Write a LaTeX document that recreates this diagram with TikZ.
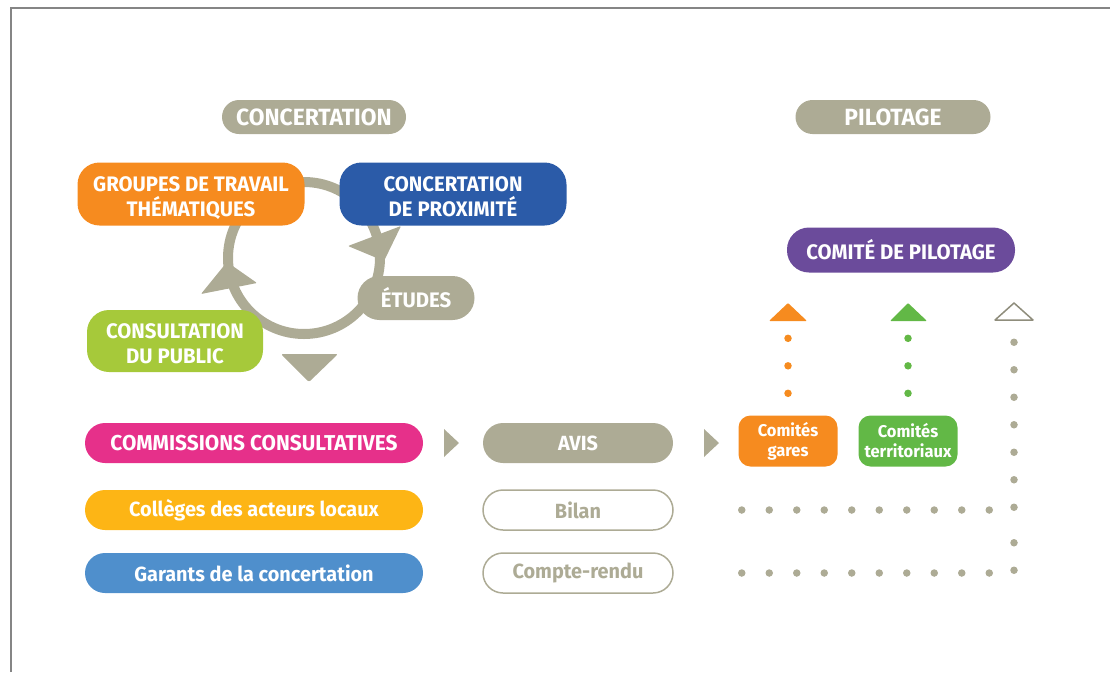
\documentclass[tikz,border=0pt]{standalone}
\usepackage{fontspec}
\setmainfont{Fira Sans}[FakeStretch=0.97]
\definecolor{cgray}{HTML}{ADAB95}
\definecolor{cgrayd}{HTML}{8F8D7C}
\definecolor{corange}{HTML}{F68B1F}
\definecolor{cblue}{HTML}{2B5BA8}
\definecolor{cgreen}{HTML}{A6C93A}
\definecolor{cpurple}{HTML}{6B4B9B}
\definecolor{cmagenta}{HTML}{E6308A}
\definecolor{cyellow}{HTML}{FDB515}
\definecolor{cbluel}{HTML}{4F8FCC}
\definecolor{cgreend}{HTML}{62B846}
\definecolor{cframe}{HTML}{858585}
\tikzset{
  box/.style={rectangle, inner sep=0pt, text=white, align=center,
    font=\bfseries\fontsize{21}{25}\selectfont},
  twoline/.style={text height=44pt, text depth=0pt},
  bigbox/.style={box, twoline, minimum width=227pt, minimum height=63pt, rounded corners=22pt},
  headbox/.style={box, fill=cgray, minimum height=34pt, rounded corners=17pt,
    font=\bfseries\fontsize{23.5}{25}\selectfont},
  rowbox/.style={box, minimum width=338pt, minimum height=40pt, rounded corners=20pt,
    font=\bfseries\fontsize{20.5}{22}\selectfont},
  midbox/.style={box, minimum width=190pt, minimum height=40pt, rounded corners=20pt,
    font=\bfseries\fontsize{20.5}{22}\selectfont},
  outbox/.style={midbox, fill=white, draw=cgray, line width=1.5pt, text=cgray},
  smallbox/.style={box, minimum width=99pt, minimum height=51pt, rounded corners=12pt,
    font=\bfseries\fontsize{17}{20}\selectfont},
  dotline/.style={line width=7.5pt, line cap=round, dash pattern=on 0pt off 27.5pt},
  rtri/.style={cgray, fill=cgray, line width=1.5pt, line join=round},
  otri/.style={cgray, fill=white, line width=1.5pt, line join=round},
}
\begin{document}
\begin{tikzpicture}[x=1pt, y=-1pt]
\useasboundingbox (0,0) rectangle (1110,672);
% frame
\draw[cframe, line width=2pt] (10.5,672) -- (10.5,7.5) -- (1110,7.5);

% ring and arrowheads
\draw[cgray, line width=10pt] (304,258) circle[radius=76pt];
\fill[cgray, rounded corners=1pt] (348,246) -- (401,226) -- (384,261) -- cycle;
\fill[cgray, rounded corners=1pt] (201,294) -- (257,283) -- (227,262) -- cycle;
\fill[cgray, rounded corners=2pt] (281,354) -- (338,354) -- (309,382) -- cycle;

% headers
\node[headbox, minimum width=184pt] (hconc) at (314,117) {CONCERTATION};
\node[headbox, minimum width=195pt] (hpil) at (893,117) {PILOTAGE};

% cycle boxes
\node[bigbox, fill=corange] (groupes) at (191,194) {GROUPES DE TRAVAIL\\THÉMATIQUES};
\node[bigbox, fill=cblue] (prox) at (453,194) {CONCERTATION\\DE PROXIMITÉ};
\node[box, fill=cgray, minimum width=117pt, minimum height=44pt, rounded corners=22pt] (etudes) at (416,298) {ÉTUDES};
\node[box, twoline, fill=cgreen, minimum width=176pt, minimum height=62pt, rounded corners=22pt] (public) at (175,341) {CONSULTATION\\DU PUBLIC};

% pilotage
\node[box, fill=cpurple, minimum width=228pt, minimum height=45pt, rounded corners=22pt] (copil) at (901,250) {COMITÉ DE PILOTAGE};
\node[smallbox, fill=corange] (gares) at (788,441) {Comités\\gares};
\node[smallbox, fill=cgreend] (terr) at (908,441) {Comités\\territoriaux};

% rows
\node[rowbox, fill=cmagenta, font=\bfseries\fontsize{21.5}{23}\selectfont] (comm) at (254,443) {COMMISSIONS CONSULTATIVES};
\node[rowbox, fill=cyellow] (coll) at (254,510) {Collèges des acteurs locaux};
\node[rowbox, fill=cbluel] (gar) at (254,573) {Garants de la concertation};
\node[midbox, fill=cgray] (avis) at (578,443) {AVIS};
\node[outbox] (bilan) at (578,510) {Bilan};
\node[outbox] (cr) at (578,573) {Compte-rendu};

% row triangles
\path[rtri] (444,429) -- (459,443) -- (444,457) -- cycle;
\path[rtri] (704,429) -- (719,443) -- (704,457) -- cycle;
\path[otri] (444,496) -- (459,510) -- (444,524) -- cycle;
\path[otri] (704,496) -- (719,510) -- (704,524) -- cycle;
\path[otri] (444,559) -- (459,573) -- (444,587) -- cycle;
\path[otri] (704,559) -- (719,573) -- (704,587) -- cycle;

% up triangles
\coordinate (tO) at (788,321);
\coordinate (tG) at (908,321);
\coordinate (tW) at (1014,321);
\fill[corange, rounded corners=1pt] (769,321) -- (788,303) -- (807,321) -- cycle;
\fill[cgreend, rounded corners=1pt] (890,321) -- (908,303) -- (927,321) -- cycle;
\draw[cgrayd, fill=white, line width=1.5pt, line join=round] (995,320) -- (1014,303) -- (1033,320) -- cycle;

% dotted connectors
\draw[dotline, corange] ([yshift=22pt]gares.north) -- (tO);
\draw[dotline, cgreend] ([yshift=22pt]terr.north) -- (tG);
\draw[dotline, cgray] ([xshift=68pt]bilan.east) -- (tW |- bilan) -- ([yshift=-18pt]tW);
\draw[dotline, cgray] ([xshift=68pt]cr.east) -- (tW |- cr) -- ++(0,-40);
\end{tikzpicture}
\end{document}
